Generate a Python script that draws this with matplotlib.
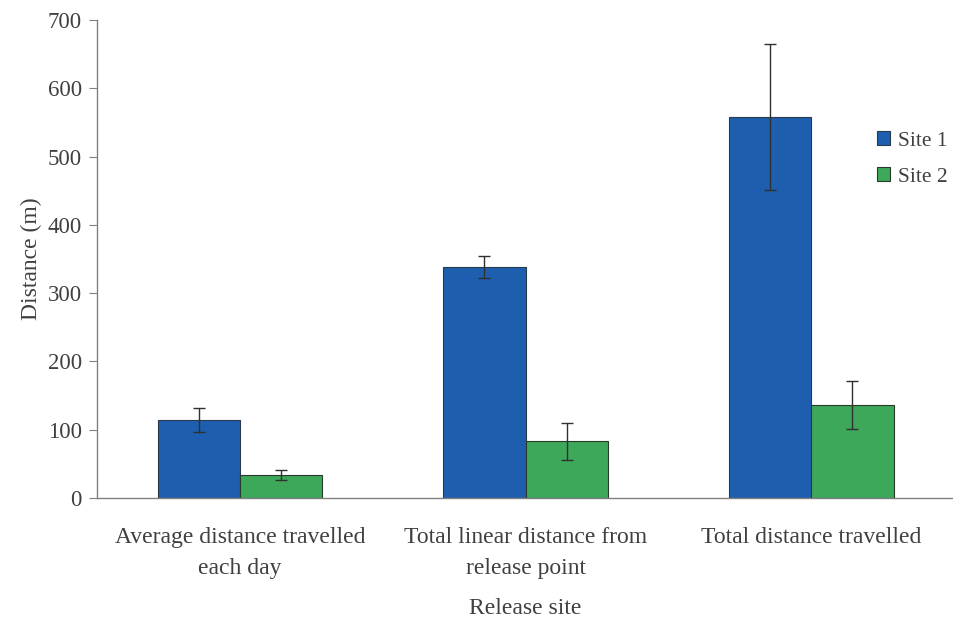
import matplotlib
matplotlib.use("Agg")
import matplotlib.pyplot as plt
import numpy as np

categories = ["Average distance travelled\neach day",
              "Total linear distance from\nrelease point",
              "Total distance travelled"]
series = ["Site 1", "Site 2"]
site1 = [114, 338, 558]
site1_err = [18, 16, 107]
site2 = [34, 83, 136]
site2_err = [7, 27, 35]
yticks = [0, 100, 200, 300, 400, 500, 600, 700]

plt.rcParams['font.family'] = ['Liberation Serif', 'DejaVu Serif']
text_color = '#404040'

fig = plt.figure(figsize=(9.54, 6.19), dpi=100)
ax = fig.add_axes([0.1017, 0.1955, 0.8985, 0.7722])

x = np.arange(len(categories))
w = 0.288
ekw = dict(ecolor='#303030', elinewidth=1.0, capsize=4, capthick=1.0)
ax.bar(x - w/2, site1, w, yerr=site1_err, color='#1d5fae', edgecolor='#2a3a4a',
       linewidth=0.8, label=series[0], error_kw=ekw)
ax.bar(x + w/2, site2, w, yerr=site2_err, color='#3ea85a', edgecolor='#2a3a2a',
       linewidth=0.8, label=series[1], error_kw=ekw)

ax.set_xlim(-0.5, 2.5)
ax.set_ylim(0, 700)
ax.set_yticks(yticks)
ax.set_xticks(x)
ax.set_xticklabels(categories, fontsize=17, color=text_color, linespacing=1.6)
ax.tick_params(axis='x', length=0, pad=21)
ax.tick_params(axis='y', labelsize=16.5, labelcolor=text_color, color='#808080',
               length=6, direction='out', pad=5)
for s in ['top', 'right']:
    ax.spines[s].set_visible(False)
for s in ['left', 'bottom']:
    ax.spines[s].set_color('#808080')
    ax.spines[s].set_linewidth(1.0)

ax.set_ylabel("Distance (m)", fontsize=17, color=text_color, labelpad=4)
ax.set_xlabel("Release site", fontsize=17, color=text_color, labelpad=14)

leg = fig.legend(loc='center left', bbox_to_anchor=(0.919, 0.743), frameon=False,
                 fontsize=15.5, handlelength=0.62, handleheight=0.62,
                 handletextpad=0.35, labelspacing=0.75, labelcolor=text_color,
                 borderpad=0, borderaxespad=0)

fig.savefig("out.png", dpi=100)
